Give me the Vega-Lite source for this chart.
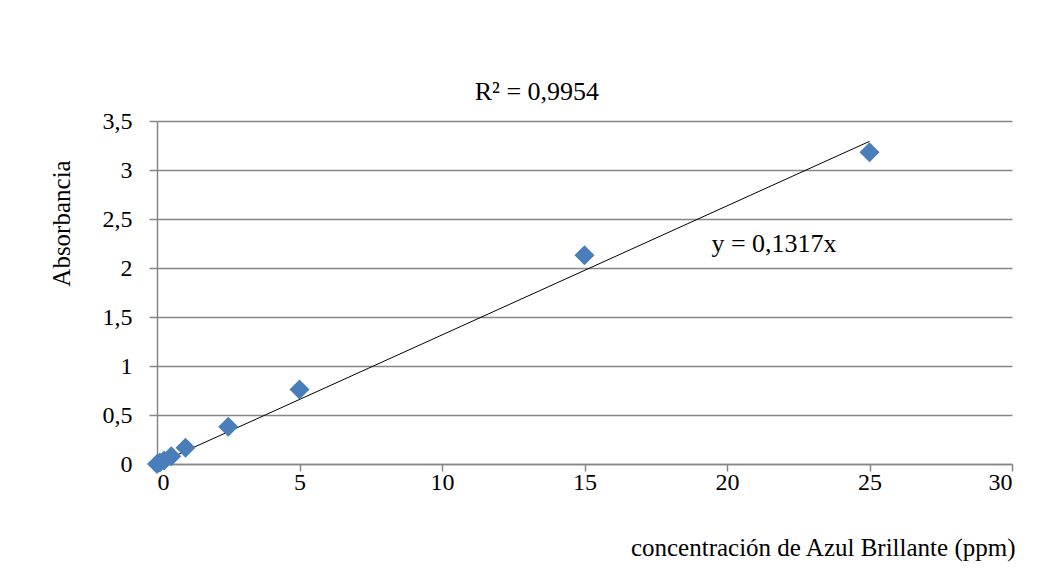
{
  "$schema": "https://vega.github.io/schema/vega-lite/v6.json",
  "width": 855,
  "height": 343,
  "autosize": "none",
  "padding": {"left": 157, "top": 121, "right": 42, "bottom": 117},
  "background": "white",
  "config": {
    "view": {"stroke": null},
    "font": "Liberation Serif",
    "axis": {
      "labelFont": "Liberation Serif",
      "titleFont": "Liberation Serif",
      "labelFontSize": 24,
      "titleFontSize": 25,
      "labelColor": "#000000",
      "titleColor": "#000000",
      "titleFontWeight": "normal",
      "domainColor": "#868686",
      "tickColor": "#868686",
      "gridColor": "#868686",
      "domainWidth": 1.5,
      "tickWidth": 1.5,
      "gridWidth": 1.5
    }
  },
  "datasets": {
    "points": [
      {"conc": 0, "abs": 0.0},
      {"conc": 0.1, "abs": 0.015},
      {"conc": 0.25, "abs": 0.035},
      {"conc": 0.5, "abs": 0.08},
      {"conc": 1, "abs": 0.165},
      {"conc": 2.5, "abs": 0.38},
      {"conc": 5, "abs": 0.76},
      {"conc": 15, "abs": 2.13},
      {"conc": 25, "abs": 3.18}
    ],
    "trend": [
      {"conc": 0, "abs": 0},
      {"conc": 25, "abs": 3.2925}
    ],
    "notes": [
      {"conc": 13.33, "abs": 3.8, "label": "R² = 0,9954"},
      {"conc": 21.65, "abs": 2.245, "label": "y = 0,1317x"}
    ]
  },
  "layer": [
    {
      "data": {"name": "trend"},
      "mark": {"type": "line", "color": "#000000", "strokeWidth": 1},
      "encoding": {
        "x": {
          "field": "conc",
          "type": "quantitative",
          "scale": {"domain": [0, 30], "nice": false},
          "axis": {
            "title": "concentración de Azul Brillante (ppm)",
            "values": [0, 5, 10, 15, 20, 25, 30],
            "grid": false,
            "tickSize": 7,
            "labelPadding": -1,
            "titleAnchor": "end",
            "titleAlign": "right",
            "titleX": 858,
            "titleY": 91,
            "titleBaseline": "alphabetic"
          }
        },
        "y": {
          "field": "abs",
          "type": "quantitative",
          "scale": {"domain": [0, 3.5], "nice": false},
          "axis": {
            "title": "Absorbancia",
            "values": [0, 0.5, 1, 1.5, 2, 2.5, 3, 3.5],
            "labelExpr": "replace(toString(datum.value), '.', ',')",
            "grid": true,
            "tickSize": 8,
            "labelPadding": 17,
            "titleX": -96,
            "titleY": 102,
            "titleBaseline": "middle",
            "titleAlign": "center"
          }
        }
      }
    },
    {
      "data": {"name": "points"},
      "mark": {"type": "point", "shape": "diamond", "filled": true, "color": "#4A7EBB", "size": 400, "opacity": 1},
      "encoding": {
        "x": {"field": "conc", "type": "quantitative"},
        "y": {"field": "abs", "type": "quantitative"}
      }
    },
    {
      "data": {"name": "notes"},
      "mark": {"type": "text", "align": "center", "baseline": "middle", "fontSize": 26, "font": "Liberation Serif", "color": "#000000"},
      "encoding": {
        "x": {"field": "conc", "type": "quantitative"},
        "y": {"field": "abs", "type": "quantitative"},
        "text": {"field": "label"}
      }
    }
  ]
}
